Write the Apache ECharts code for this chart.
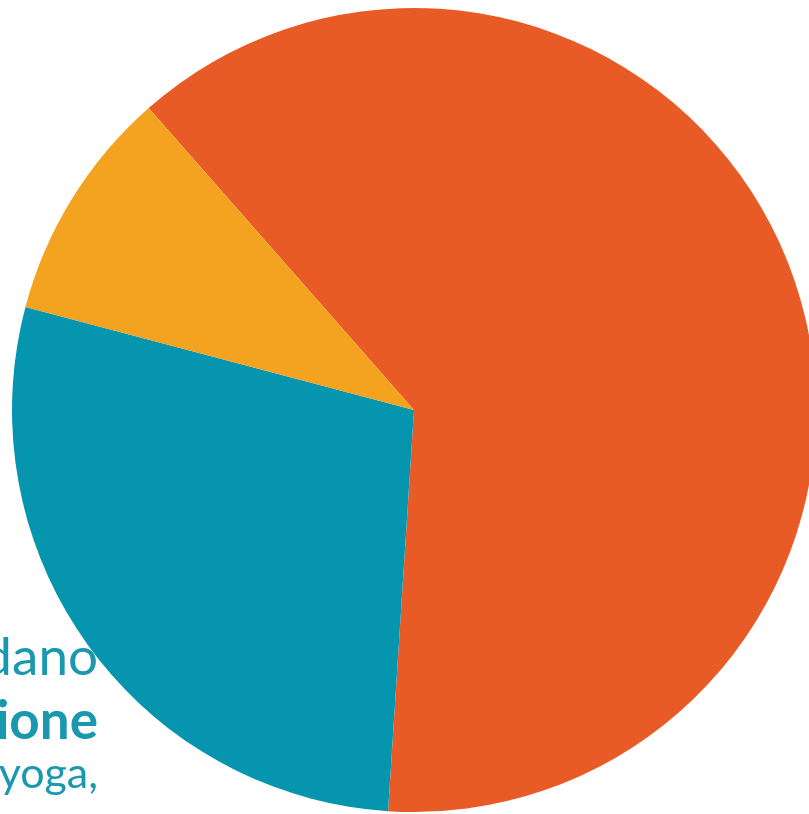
<!DOCTYPE html>
<html>
<head>
<meta charset="utf-8">
<script src="https://cdn.jsdelivr.net/npm/echarts@6/dist/echarts.min.js"></script>
<style>html,body{margin:0;padding:0;background:#fff;}#c{width:809px;height:814px;}</style>
</head>
<body>
<div id="c"></div>
<script>
var categories = ['A', 'B', 'C'];
var values = [62.5, 28.1, 9.4];
var colors = ['#E95B26', '#0595AF', '#F4A320'];
var textLines = ['dano', 'ione', 'yoga,'];

var chart = echarts.init(document.getElementById('c'), null, {renderer: 'canvas'});
var data = categories.map(function (c, i) {
  return {name: c, value: values[i], itemStyle: {color: colors[i]}};
});
chart.setOption({
  animation: false,
  backgroundColor: '#ffffff',
  graphic: [
    {type: 'text', x: 98, y: 684, z: 0, style: {text: textLines[0], fill: '#1A98AF', font: '400 53px Lato', align: 'right', verticalAlign: 'bottom'}},
    {type: 'text', x: 98, y: 748, z: 0, style: {text: textLines[1], fill: '#1A98AF', font: '700 53px Lato', align: 'right', verticalAlign: 'bottom'}},
    {type: 'text', x: 98, y: 796, z: 0, style: {text: textLines[2], fill: '#1A98AF', font: '400 43px Lato', align: 'right', verticalAlign: 'bottom'}}
  ],
  series: [{
    type: 'pie',
    z: 5,
    center: [414, 410],
    radius: [0, 402],
    startAngle: 131.3,
    clockwise: true,
    label: {show: false},
    labelLine: {show: false},
    emphasis: {disabled: true},
    itemStyle: {borderWidth: 0},
    data: data
  }]
});
</script>
</body>
</html>
